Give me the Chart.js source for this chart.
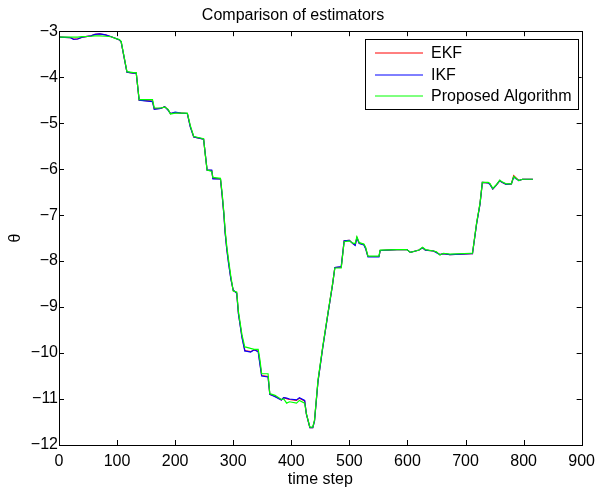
<!DOCTYPE html>
<html>
<head>
<meta charset="utf-8">
<script src="https://cdn.jsdelivr.net/npm/chart.js@4.4.1/dist/chart.umd.min.js"></script>
<style>
    body { margin: 0; background: #ffffff; }
    #wrap { width: 602px; height: 489px; }
</style>
</head>
<body>
<div id="wrap"><canvas id="chartEstimators" width="602" height="489"></canvas></div>
<script>
// values (vertices of the traces)
const timeSteps = [
    0, 20, 25, 32, 40, 55, 62, 70, 80, 90,
    98, 104, 107, 117, 128, 133, 138, 161, 164, 175,
    182, 188, 192, 200, 210, 221, 226, 232, 249, 252,
    255, 263, 265, 278, 281, 284, 286, 289, 292, 296,
    300, 306, 309, 315, 320, 322, 330, 336, 343, 346,
    349, 360, 363, 372, 383, 387, 392, 397, 409, 414,
    423, 426, 432, 437, 440, 446, 454, 463, 471, 475,
    486, 491, 500, 506, 510, 513, 517, 525, 528, 532,
    551, 553, 582, 599, 605, 614, 620, 626, 631, 645,
    650, 656, 662, 673, 710, 712, 719, 725, 729, 739,
    742, 747, 753, 759, 762, 770, 779, 783, 787, 792,
    798, 816
];

const ekf = [
    -3.13, -3.14, -3.17, -3.17, -3.13, -3.10, -3.07, -3.06, -3.08, -3.12,
    -3.16, -3.19, -3.23, -3.89, -3.91, -3.91, -4.50, -4.52, -4.69, -4.68,
    -4.64, -4.71, -4.79, -4.77, -4.78, -4.79, -5.07, -5.30, -5.35, -5.69,
    -6.02, -6.03, -6.20, -6.21, -6.57, -6.99, -7.36, -7.74, -8.03, -8.38,
    -8.64, -8.69, -9.14, -9.64, -9.94, -9.95, -9.97, -9.93, -9.96, -10.22,
    -10.49, -10.51, -10.90, -10.94, -11.02, -10.97, -10.99, -11.01, -11.03, -10.98,
    -11.04, -11.33, -11.62, -11.62, -11.47, -10.61, -9.89, -9.15, -8.51, -8.14,
    -8.13, -7.56, -7.55, -7.62, -7.65, -7.49, -7.61, -7.64, -7.72, -7.90,
    -7.90, -7.77, -7.75, -7.75, -7.81, -7.78, -7.76, -7.71, -7.76, -7.78,
    -7.81, -7.86, -7.84, -7.86, -7.84, -7.84, -7.19, -6.75, -6.29, -6.30,
    -6.32, -6.43, -6.35, -6.25, -6.28, -6.33, -6.32, -6.14, -6.19, -6.25,
    -6.22, -6.22
];

const ikf = [
    -3.13, -3.14, -3.18, -3.17, -3.13, -3.10, -3.07, -3.06, -3.08, -3.12,
    -3.16, -3.19, -3.23, -3.89, -3.91, -3.91, -4.50, -4.53, -4.70, -4.68,
    -4.64, -4.72, -4.79, -4.76, -4.78, -4.79, -5.08, -5.30, -5.35, -5.68,
    -6.02, -6.02, -6.21, -6.21, -6.58, -7.00, -7.38, -7.76, -8.05, -8.40,
    -8.63, -8.70, -9.15, -9.66, -9.96, -9.96, -9.98, -9.93, -9.97, -10.25,
    -10.50, -10.52, -10.90, -10.95, -11.02, -10.97, -10.98, -11.00, -11.02, -10.97,
    -11.03, -11.33, -11.62, -11.62, -11.48, -10.62, -9.90, -9.16, -8.52, -8.14,
    -8.12, -7.56, -7.55, -7.62, -7.66, -7.50, -7.62, -7.65, -7.73, -7.91,
    -7.91, -7.77, -7.75, -7.75, -7.81, -7.78, -7.76, -7.71, -7.76, -7.78,
    -7.82, -7.86, -7.84, -7.86, -7.84, -7.84, -7.20, -6.76, -6.29, -6.30,
    -6.33, -6.43, -6.35, -6.25, -6.28, -6.33, -6.32, -6.17, -6.21, -6.25,
    -6.22, -6.22
];

const proposed = [
    -3.13, -3.13, -3.13, -3.13, -3.12, -3.11, -3.10, -3.10, -3.11, -3.12,
    -3.16, -3.18, -3.22, -3.88, -3.90, -3.90, -4.49, -4.49, -4.67, -4.67,
    -4.65, -4.70, -4.80, -4.78, -4.78, -4.78, -5.05, -5.29, -5.34, -5.70,
    -6.02, -6.05, -6.18, -6.20, -6.53, -6.96, -7.32, -7.69, -7.98, -8.34,
    -8.65, -8.67, -9.10, -9.60, -9.87, -9.87, -9.90, -9.92, -9.92, -10.15,
    -10.45, -10.45, -10.88, -10.92, -11.01, -11.00, -11.09, -11.06, -11.09, -11.03,
    -11.09, -11.32, -11.61, -11.61, -11.46, -10.59, -9.87, -9.14, -8.50, -8.15,
    -8.15, -7.58, -7.56, -7.61, -7.62, -7.47, -7.60, -7.63, -7.70, -7.89,
    -7.89, -7.76, -7.75, -7.75, -7.81, -7.78, -7.76, -7.70, -7.75, -7.78,
    -7.80, -7.87, -7.83, -7.85, -7.83, -7.83, -7.18, -6.74, -6.29, -6.29,
    -6.31, -6.42, -6.34, -6.24, -6.27, -6.32, -6.32, -6.16, -6.20, -6.25,
    -6.22, -6.22
];

const xTicks = [0, 100, 200, 300, 400, 500, 600, 700, 800, 900];
const yTicks = [-12, -11, -10, -9, -8, -7, -6, -5, -4, -3];

const FONT = "'Liberation Sans', Arial, Helvetica, sans-serif";

function points(values) {
    return timeSteps.map((t, i) => ({ x: t, y: values[i] }));
}

// MATLAB style box with inward ticks on all sides, plus the boxed legend
const matlabFrame = {
    id: "matlabFrame",
    afterDraw(chart) {
        const ctx = chart.ctx;
        const a = chart.chartArea;
        const xs = chart.scales.x;
        const ys = chart.scales.y;
        const tick = 5;
        ctx.save();
        ctx.strokeStyle = "#000";
        ctx.lineWidth = 1;
        ctx.beginPath();
        xTicks.forEach((v) => {
            const px = Math.round(xs.getPixelForValue(v)) + 0.5;
            ctx.moveTo(px, a.bottom);
            ctx.lineTo(px, a.bottom - tick);
            ctx.moveTo(px, a.top);
            ctx.lineTo(px, a.top + tick);
        });
        yTicks.forEach((v) => {
            const py = Math.round(ys.getPixelForValue(v)) + 0.5;
            ctx.moveTo(a.left, py);
            ctx.lineTo(a.left + tick, py);
            ctx.moveTo(a.right, py);
            ctx.lineTo(a.right - tick, py);
        });
        ctx.stroke();
        ctx.strokeRect(Math.round(a.left) + 0.5, Math.round(a.top) + 0.5,
            Math.round(a.right - a.left), Math.round(a.bottom - a.top));

        // legend
        const bx = 365.5, by = 39.5, bw = 213, bh = 70;
        ctx.fillStyle = "#fff";
        ctx.fillRect(bx, by, bw, bh);
        ctx.strokeStyle = "#000";
        ctx.strokeRect(bx, by, bw, bh);
        ctx.font = "16px " + FONT;
        ctx.textBaseline = "middle";
        ctx.textAlign = "left";
        chart.data.datasets.forEach((ds, i) => {
            const ry = Math.round(53 + i * 21.5);
            ctx.lineWidth = 1;
            ctx.strokeStyle = ds.borderColor;
            ctx.beginPath();
            ctx.moveTo(375, ry);
            ctx.lineTo(423, ry);
            ctx.stroke();
            ctx.fillStyle = "#000";
            ctx.fillText(ds.label, 431, ry + 1);
        });
        ctx.restore();
    },
};

new Chart(document.getElementById("chartEstimators"), {
    type: "line",
    data: {
        datasets: [
            { label: "EKF", data: points(ekf), borderColor: "#ff0000", order: 3 },
            { label: "IKF", data: points(ikf), borderColor: "#0000ff", order: 2 },
            { label: "Proposed Algorithm", data: points(proposed), borderColor: "#00ff00", order: 1 },
        ],
    },
    options: {
        responsive: false,
        animation: false,
        events: [],
        layout: { padding: { left: 0, right: 16, top: 0, bottom: 0 } },
        elements: {
            point: { radius: 0 },
            line: { borderWidth: 1.2, tension: 0, fill: false },
        },
        plugins: {
            legend: { display: false },
            tooltip: { enabled: false },
            title: {
                display: true,
                text: "Comparison of estimators",
                color: "#000",
                font: { family: FONT, size: 16, weight: "normal" },
                padding: { top: 6, bottom: 6 },
            },
        },
        scales: {
            x: {
                type: "linear",
                min: 0,
                max: 900,
                afterBuildTicks: (s) => { s.ticks = xTicks.map((v) => ({ value: v })); },
                afterFit: (s) => { s.height = 44; },
                grid: { display: false, drawTicks: false },
                border: { display: false },
                ticks: {
                    color: "#000",
                    padding: 7,
                    maxRotation: 0,
                    font: { family: FONT, size: 16 },
                },
                title: {
                    display: true,
                    text: "time step",
                    color: "#000",
                    font: { family: FONT, size: 16 },
                    padding: { top: 0, bottom: 0 },
                },
            },
            y: {
                type: "linear",
                min: -12,
                max: -3,
                afterBuildTicks: (s) => { s.ticks = yTicks.map((v) => ({ value: v })); },
                afterFit: (s) => { s.width = 59; },
                grid: { display: false, drawTicks: false },
                border: { display: false },
                ticks: {
                    color: "#000",
                    padding: 1,
                    font: { family: FONT, size: 16 },
                    callback: (v) => String(v).replace("-", "\u2212"),
                },
                title: {
                    display: true,
                    text: "θ",
                    color: "#000",
                    font: { family: FONT, size: 16 },
                    padding: { top: 6, bottom: 0 },
                },
            },
        },
    },
    plugins: [matlabFrame],
});
</script>
</body>
</html>
